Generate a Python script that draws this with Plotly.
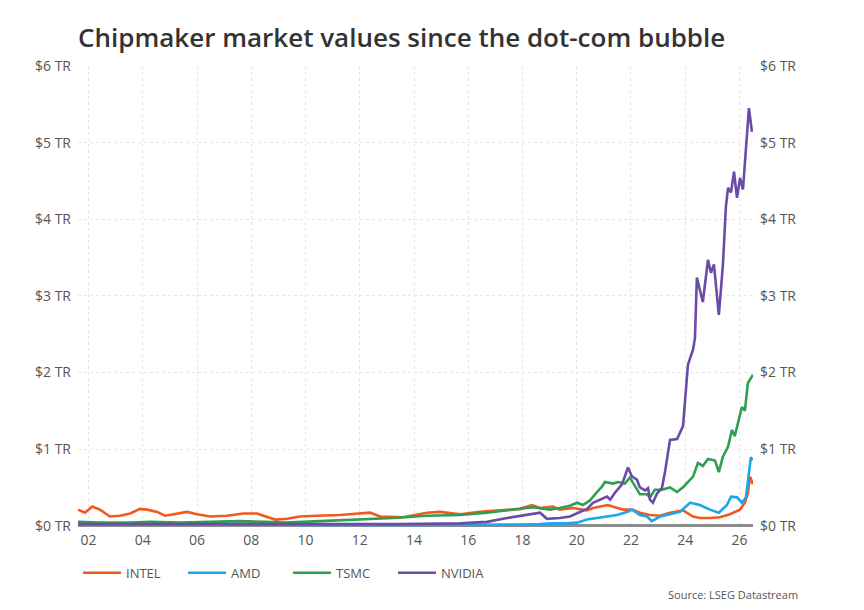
import plotly.graph_objects as go

# ---------------- data (market value, $ trillions; x = decimal year) ----------------
INTEL_YEARS = [2001.61, 2001.87, 2002.13, 2002.42, 2002.79, 2003.16, 2003.53, 2003.90, 2004.16, 2004.53,
               2004.82, 2005.26, 2005.63, 2006.00, 2006.48, 2007.11, 2007.70, 2008.21, 2008.58, 2008.88,
               2009.32, 2009.80, 2010.42, 2011.27, 2012.38, 2012.75, 2013.59, 2014.48, 2014.96, 2015.70,
               2016.43, 2017.43, 2017.91, 2018.35, 2018.65, 2019.12, 2019.38, 2019.86, 2020.38, 2020.60,
               2020.86, 2021.15, 2021.41, 2021.71, 2022.04, 2022.33, 2022.70, 2023.07, 2023.44, 2023.92,
               2024.29, 2024.54, 2024.91, 2025.28, 2025.65, 2026.02, 2026.20, 2026.31, 2026.39, 2026.50]
INTEL = [0.21, 0.17, 0.25, 0.21, 0.12, 0.13, 0.16, 0.22, 0.21, 0.18,
         0.13, 0.16, 0.18, 0.15, 0.12, 0.13, 0.16, 0.16, 0.12, 0.08,
         0.09, 0.12, 0.13, 0.14, 0.17, 0.12, 0.11, 0.17, 0.18, 0.15,
         0.18, 0.21, 0.22, 0.27, 0.23, 0.25, 0.21, 0.23, 0.20, 0.23,
         0.25, 0.27, 0.24, 0.21, 0.21, 0.17, 0.14, 0.13, 0.17, 0.20,
         0.12, 0.10, 0.10, 0.11, 0.15, 0.21, 0.30, 0.42, 0.64, 0.54]

AMD_YEARS = [2001.61, 2004.27, 2006.11, 2008.32, 2009.80, 2013.48, 2016.43, 2017.91, 2018.65, 2019.12,
             2019.64, 2020.01, 2020.38, 2020.75, 2021.12, 2021.48, 2021.85, 2022.04, 2022.33, 2022.59,
             2022.77, 2023.07, 2023.44, 2023.81, 2024.18, 2024.54, 2024.91, 2025.24, 2025.54, 2025.69,
             2025.91, 2026.09, 2026.24, 2026.31, 2026.42, 2026.50]
AMD = [0.02, 0.02, 0.03, 0.02, 0.01, 0.01, 0.01, 0.015, 0.02, 0.03,
       0.03, 0.04, 0.08, 0.10, 0.12, 0.14, 0.18, 0.21, 0.14, 0.12,
       0.06, 0.12, 0.15, 0.18, 0.30, 0.27, 0.21, 0.17, 0.27, 0.38,
       0.37, 0.30, 0.37, 0.60, 0.89, 0.86]

TSMC_YEARS = [2001.61, 2002.42, 2003.53, 2004.27, 2005.37, 2006.48, 2007.59, 2008.51, 2009.24, 2010.53,
              2011.27, 2012.38, 2013.23, 2014.48, 2015.70, 2016.69, 2017.65, 2018.39, 2019.01, 2019.38,
              2019.75, 2020.01, 2020.23, 2020.49, 2020.75, 2020.93, 2021.04, 2021.34, 2021.52, 2021.78,
              2021.96, 2022.15, 2022.33, 2022.59, 2022.70, 2022.88, 2023.14, 2023.44, 2023.70, 2023.92,
              2024.10, 2024.29, 2024.47, 2024.65, 2024.84, 2025.10, 2025.24, 2025.39, 2025.58, 2025.72,
              2025.83, 2026.09, 2026.20, 2026.31, 2026.50]
TSMC = [0.05, 0.04, 0.04, 0.05, 0.04, 0.05, 0.06, 0.05, 0.04, 0.06,
        0.07, 0.08, 0.10, 0.13, 0.14, 0.17, 0.21, 0.24, 0.21, 0.23,
        0.26, 0.30, 0.27, 0.33, 0.44, 0.51, 0.57, 0.55, 0.57, 0.55,
        0.63, 0.51, 0.41, 0.41, 0.37, 0.47, 0.47, 0.50, 0.44, 0.50,
        0.57, 0.64, 0.82, 0.78, 0.87, 0.85, 0.70, 0.90, 1.03, 1.25,
        1.17, 1.55, 1.50, 1.86, 1.97]

NVIDIA_YEARS = [2001.61, 2009.80, 2013.48, 2015.70, 2016.69, 2017.43, 2018.17, 2018.65, 2018.90, 2019.38,
                2019.75, 2020.12, 2020.38, 2020.60, 2020.86, 2021.12, 2021.23, 2021.41, 2021.67, 2021.89,
                2022.04, 2022.22, 2022.33, 2022.52, 2022.63, 2022.70, 2022.81, 2022.96, 2023.14, 2023.25,
                2023.44, 2023.70, 2023.92, 2024.10, 2024.29, 2024.36, 2024.43, 2024.65, 2024.84, 2024.95,
                2025.06, 2025.17, 2025.24, 2025.39, 2025.50, 2025.58, 2025.69, 2025.80, 2025.91, 2026.02,
                2026.13, 2026.35, 2026.46]
NVIDIA = [0.02, 0.02, 0.02, 0.03, 0.05, 0.10, 0.14, 0.17, 0.09, 0.10,
          0.12, 0.18, 0.22, 0.30, 0.34, 0.38, 0.34, 0.43, 0.54, 0.76,
          0.64, 0.60, 0.50, 0.46, 0.49, 0.34, 0.30, 0.42, 0.49, 0.69,
          1.12, 1.13, 1.30, 2.10, 2.30, 2.45, 3.24, 2.92, 3.47, 3.30,
          3.41, 2.99, 2.75, 3.40, 4.16, 4.41, 4.35, 4.62, 4.28, 4.54,
          4.39, 5.45, 5.14]

SERIES_NAMES = ["INTEL", "AMD", "TSMC", "NVIDIA"]
COLORS = ["#F2591F", "#1AA7EC", "#2E9E4F", "#6A4BA8"]

X_TICK_VALUES = [2002, 2004, 2006, 2008, 2010, 2012, 2014, 2016, 2018, 2020, 2022, 2024, 2026]
X_TICK_LABELS = ["02", "04", "06", "08", "10", "12", "14", "16", "18", "20", "22", "24", "26"]
Y_TICK_VALUES = [0, 1, 2, 3, 4, 5, 6]
Y_TICK_LABELS = ["$0 TR", "$1 TR", "$2 TR", "$3 TR", "$4 TR", "$5 TR", "$6 TR"]
X_RANGE = [2001.61, 2026.50]
Y_RANGE = [-0.03, 6.0]

TITLE = "Chipmaker market values since the dot-com bubble"
SOURCE = "Source: LSEG Datastream"

FONT = "Open Sans, Noto Sans, DejaVu Sans, sans-serif"
TICK_COLOR = "#555555"

# ---------------- figure ----------------
fig = go.Figure()
data = [(INTEL_YEARS, INTEL), (AMD_YEARS, AMD), (TSMC_YEARS, TSMC), (NVIDIA_YEARS, NVIDIA)]
for (xs, ys), name, color in zip(data, SERIES_NAMES, COLORS):
    fig.add_trace(go.Scatter(
        x=xs, y=ys, mode="lines", name=name,
        line=dict(color=color, width=2.6),
        yaxis="y2" if name == "NVIDIA" else "y",
        hoverinfo="skip",
    ))

axis_common = dict(
    range=Y_RANGE, tickvals=Y_TICK_VALUES, ticktext=Y_TICK_LABELS,
    tickfont=dict(family=FONT, size=14, color=TICK_COLOR),
    ticks="", ticklabelstandoff=6, fixedrange=True,
)

fig.update_layout(
    width=864, height=610,
    margin=dict(l=78, r=111, t=66, b=82),
    paper_bgcolor="white", plot_bgcolor="white",
    font=dict(family=FONT, color=TICK_COLOR),
    title=dict(
        text=TITLE, x=0, xref="paper", xanchor="left",
        y=1 - 38 / 610, yref="container", yanchor="middle",
        font=dict(family=FONT, size=26, color="#333333", weight=600),
    ),
    xaxis=dict(
        range=X_RANGE, tickvals=X_TICK_VALUES, ticktext=X_TICK_LABELS,
        tickfont=dict(family=FONT, size=14, color=TICK_COLOR),
        showgrid=True, gridcolor="#E6E6E6", griddash="dot", gridwidth=1,
        zeroline=False, showline=False, ticks="", ticklabelstandoff=2,
    ),
    yaxis=dict(
        side="left", showgrid=True, gridcolor="#E6E6E6", griddash="dot", gridwidth=1,
        zeroline=True, zerolinecolor="#8C8C8C", zerolinewidth=2.5,
        **axis_common,
    ),
    yaxis2=dict(
        side="right", overlaying="y", showgrid=False, zeroline=False,
        **axis_common,
    ),
    legend=dict(
        orientation="h", x=0, xanchor="left", y=-0.097, yanchor="middle",
        font=dict(family=FONT, size=13, color=TICK_COLOR),
        entrywidth=52, entrywidthmode="pixels", itemwidth=38,
        bgcolor="rgba(0,0,0,0)",
    ),
    showlegend=True,
)

fig.add_annotation(
    text=SOURCE, xref="paper", yref="paper", x=1.0696, y=-0.143,
    xanchor="right", yanchor="middle", showarrow=False,
    font=dict(family=FONT, size=11, color=TICK_COLOR),
)

fig.write_html("out.html")
